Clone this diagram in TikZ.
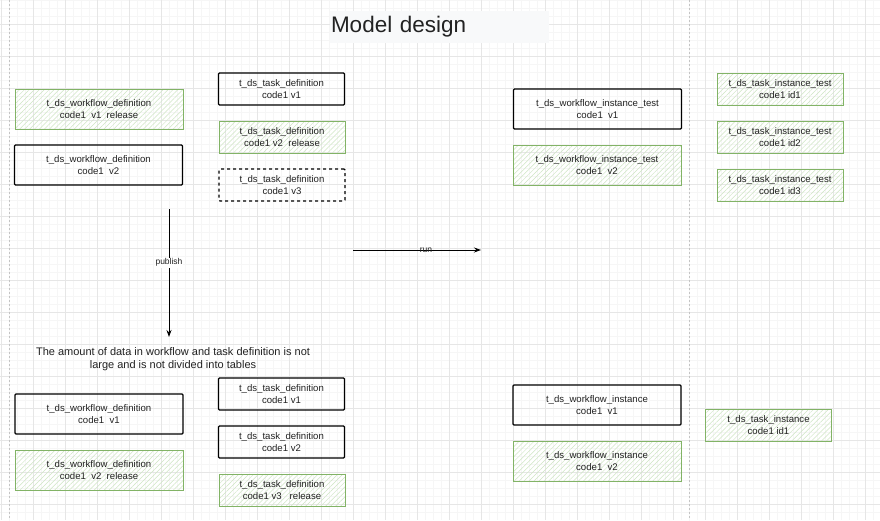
\documentclass[tikz,border=0pt]{standalone}
\usepackage{fontspec}
\setmainfont{Liberation Sans}
\usetikzlibrary{arrows.meta,patterns.meta}

\definecolor{gridmajor}{HTML}{E6E6E6}
\definecolor{gridminor}{HTML}{F6F6F6}
\definecolor{splitgray}{HTML}{C4C4C4}
\definecolor{greenline}{HTML}{82B366}
\definecolor{greenhatch}{HTML}{CFE6C4}
\definecolor{titlebg}{HTML}{F8F9FA}
\definecolor{textgray}{HTML}{222222}

\begin{document}
\begin{tikzpicture}
        [x=1pt,y=-1pt,
        every node/.style={inner sep=0pt,align=center,text=textgray,
        font=\fontsize{9.6}{12}\selectfont},
        wfbox/.style={minimum width=168pt,minimum height=40pt},
        taskbox/.style={minimum width=126pt,minimum height=32pt},
        plainbox/.style={draw=black,line width=1.1pt,rounded corners=1pt},
        greenbox/.style={draw=greenline,line width=0.8pt,
        pattern={Lines[angle=45,distance=3.5pt,line width=0.5pt]},
        pattern color=greenhatch},
        dashbox/.style={draw=black,line width=1.1pt,dashed,rounded corners=1pt},
        edgelabel/.style={font=\fontsize{8.5}{10}\selectfont,inner sep=1pt},
        flow/.style={-{Stealth[length=7pt,width=5pt]},line width=0.9pt}]
        \useasboundingbox (0,0) rectangle (880,520);
        \fill[white] (0,0) rectangle (880,520);
        % grid
        \foreach \x in {1,9,...,880} \draw[gridminor,line width=0.5pt] (\x,0) -- (\x,520);
        \foreach \y in {0.7,8.7,...,520} \draw[gridminor,line width=0.5pt] (0,\y) -- (880,\y);
        \foreach \x in {1,33,...,880} \draw[gridmajor,line width=0.7pt] (\x,0) -- (\x,520);
        \foreach \y in {24.7,56.7,...,520} \draw[gridmajor,line width=0.7pt] (0,\y) -- (880,\y);
        \draw[splitgray,line width=0.8pt,dash pattern=on 2pt off 2pt] (9,0) -- (9,520);
        \draw[splitgray,line width=0.8pt,dash pattern=on 2pt off 2pt] (689,0) -- (689,520);

        \node[fill=titlebg,minimum width=219pt,minimum height=32pt,text width=217pt,
        align=left,font=\fontsize{22.5}{26}\selectfont] (title) at (439.5,26.5) {Model design};

        % test tables
        \node[wfbox,greenbox] (wfdefA) at (99,109) {t\_ds\_workflow\_definition\\code1\ \ v1\ \ release};
        \node[wfbox,plainbox] (wfdefB) at (98.5,165) {t\_ds\_workflow\_definition\\code1\ \ v2};
        \node[taskbox,plainbox] (taskdefA) at (281.5,89) {t\_ds\_task\_definition\\code1 v1};
        \node[taskbox,greenbox] (taskdefB) at (282,137) {t\_ds\_task\_definition\\code1 v2\ \ release};
        \node[taskbox,dashbox] (taskdefC) at (282,185) {t\_ds\_task\_definition\\code1 v3};

        \node[wfbox,plainbox] (wfinstA) at (597.5,109) {t\_ds\_workflow\_instance\_test\\code1\ \ v1};
        \node[wfbox,greenbox] (wfinstB) at (597,165) {t\_ds\_workflow\_instance\_test\\code1\ \ v2};
        \node[taskbox,greenbox] (tinstA) at (780,89) {t\_ds\_task\_instance\_test\\code1 id1};
        \node[taskbox,greenbox] (tinstB) at (780,137) {t\_ds\_task\_instance\_test\\code1 id2};
        \node[taskbox,greenbox] (tinstC) at (780,185) {t\_ds\_task\_instance\_test\\code1 id3};

        % arrows
        \coordinate (pubstart) at (169,209);
        \coordinate (pubend) at (169,337);
        \draw[flow] (pubstart) -- node[pos=.42,edgelabel,fill=white] {publish} (pubend);
        \coordinate (runstart) at (353,250);
        \coordinate (runend) at (481,250);
        \draw[flow] (runstart) -- node[pos=.57,edgelabel] {run} (runend);

        % online tables
        \node[font=\fontsize{11}{13}\selectfont] (note) at (173,359.5)
        {The amount of data in workflow and task definition is not\\large and is not divided into tables};
        \node[wfbox,plainbox] (wfdefC) at (99,414) {t\_ds\_workflow\_definition\\code1\ \ v1};
        \node[wfbox,greenbox] (wfdefD) at (99,470) {t\_ds\_workflow\_definition\\code1\ \ v2\ \ release};
        \node[taskbox,plainbox] (taskdefD) at (281.5,394) {t\_ds\_task\_definition\\code1 v1};
        \node[taskbox,plainbox] (taskdefE) at (281.5,442) {t\_ds\_task\_definition\\code1 v2};
        \node[taskbox,greenbox] (taskdefF) at (282,490) {t\_ds\_task\_definition\\code1 v3\ \ \ release};

        \node[wfbox,plainbox] (wfinstC) at (597,405) {t\_ds\_workflow\_instance\\code1\ \ v1};
        \node[wfbox,greenbox] (wfinstD) at (597,461) {t\_ds\_workflow\_instance\\code1\ \ v2};
        \node[taskbox,greenbox] (tinstD) at (768.5,425) {t\_ds\_task\_instance\\code1 id1};
\end{tikzpicture}
\end{document}
